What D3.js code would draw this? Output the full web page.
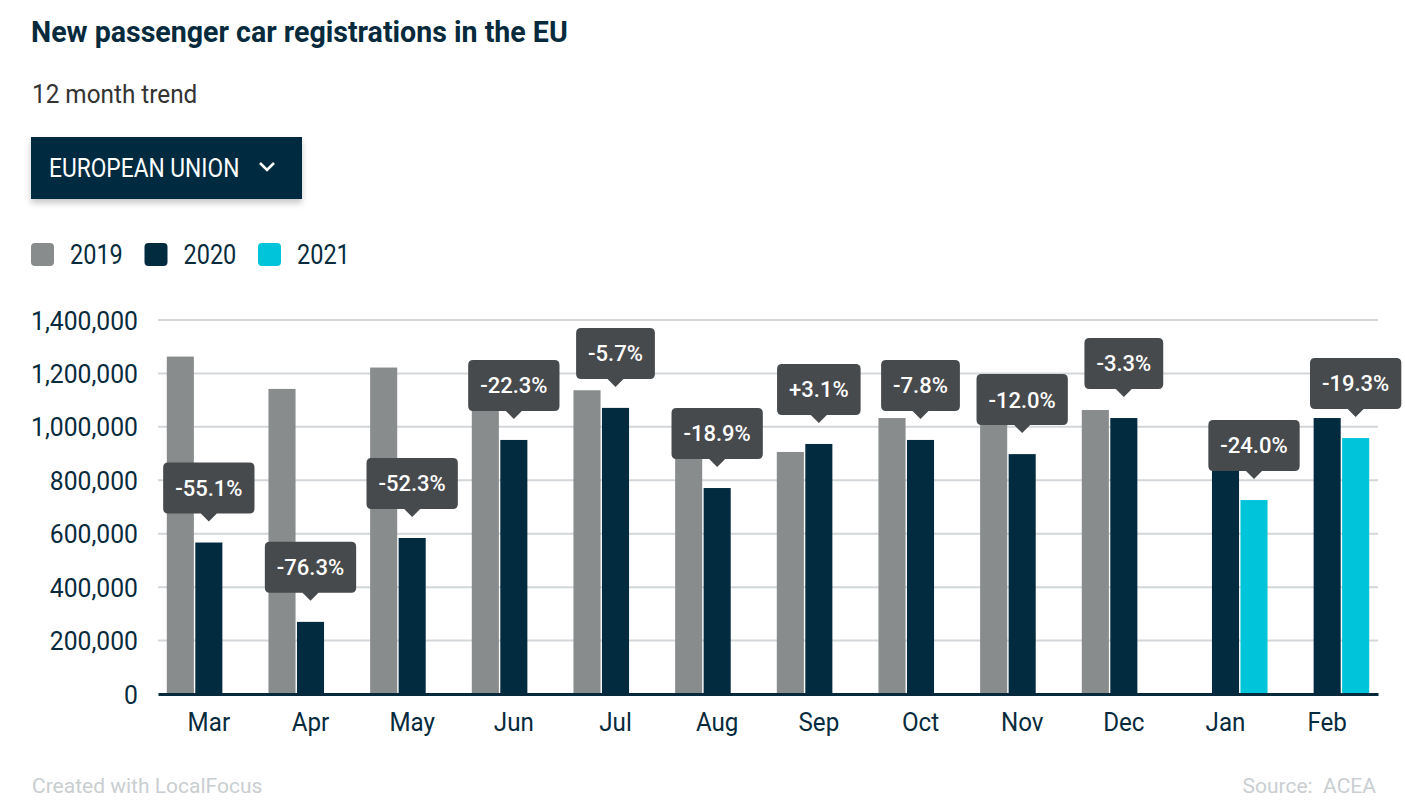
<!DOCTYPE html>
<html>
<head>
<meta charset="utf-8">
<script src="https://cdn.jsdelivr.net/npm/d3@7"></script>
<style>
  html, body { margin: 0; padding: 0; background: #fff; }
  svg { display: block; font-family: Roboto, "Noto Sans", sans-serif; }
</style>
</head>
<body>
<svg id="chart" width="1405" height="811"></svg>
<script>
// ---------- data ----------
const months = ["Mar", "Apr", "May", "Jun", "Jul", "Aug", "Sep", "Oct", "Nov", "Dec", "Jan", "Feb"];
const seriesNames = ["2019", "2020", "2021"];
const values2019 = [1263000, 1142000, 1222000, 1224000, 1137000, 951000, 906000, 1033000, 1021000, 1063000, null, null];
const values2020 = [567000, 270000, 584000, 951000, 1071000, 771000, 936000, 951000, 898000, 1033000, 958000, 1033000];
const values2021 = [null, null, null, null, null, null, null, null, null, null, 726000, 958000];
const changeLabels = ["-55.1%", "-76.3%", "-52.3%", "-22.3%", "-5.7%", "-18.9%", "+3.1%", "-7.8%", "-12.0%", "-3.3%", "-24.0%", "-19.3%"];
const yTicks = [0, 200000, 400000, 600000, 800000, 1000000, 1200000, 1400000];
const colors = ["#888c8c", "#032b40", "#00c4d9"];

(function () {
function condense(sel, k) {
  sel.each(function () {
    const w = this.getComputedTextLength();
    this.setAttribute("textLength", w * k);
    this.setAttribute("lengthAdjust", "spacingAndGlyphs");
  });
  return sel;
}

const svg = d3.select("#chart");

// defs: shadow
const defs = svg.append("defs");
const f = defs.append("filter").attr("id", "shadow").attr("x", "-10%").attr("y", "-20%").attr("width", "120%").attr("height", "160%");
f.append("feDropShadow").attr("dx", 0).attr("dy", 4).attr("stdDeviation", 3).attr("flood-color", "#000").attr("flood-opacity", 0.22);

// ---------- header ----------
condense(svg.append("text").attr("x", 31).attr("y", 42)
  .attr("font-size", 30).attr("font-weight", 700).attr("fill", "#072b3d")
  .text("New passenger car registrations in the EU"), 0.952);

condense(svg.append("text").attr("x", 32).attr("y", 103)
  .attr("font-size", 26).attr("fill", "#333")
  .text("12 month trend"), 0.935);

// dropdown
const dd = svg.append("g");
dd.append("rect").attr("x", 31).attr("y", 137).attr("width", 271).attr("height", 62)
  .attr("fill", "#032a3f").attr("filter", "url(#shadow)");
condense(dd.append("text").attr("x", 49).attr("y", 177)
  .attr("font-size", 26).attr("fill", "#fff")
  .text("EUROPEAN UNION"), 0.875);
dd.append("path").attr("d", "M260,163 L267,170 L274,163")
  .attr("fill", "none").attr("stroke", "#fff").attr("stroke-width", 2.6);

// legend
let lx = 31;
seriesNames.forEach((s, i) => {
  svg.append("rect").attr("x", lx).attr("y", 243).attr("width", 23).attr("height", 23)
    .attr("rx", 4).attr("fill", colors[i]);
  const t = svg.append("text").attr("x", lx + 39).attr("y", 264)
    .attr("font-size", 27).attr("fill", "#072b3d").text(s);
  condense(t, 0.87);
  lx += 113.5;
});

// ---------- chart ----------
const pLeft = 158, pRight = 1378, pTop = 320, pBottom = 694;

const x0 = d3.scaleBand().domain(months).range([pLeft, pRight]).paddingInner(0.145).paddingOuter(0.0725);
const x1 = d3.scaleBand().domain(seriesNames).range([0, x0.bandwidth()]).padding(0.05);
const y = d3.scaleLinear().domain([0, 1400000]).range([pBottom, pTop]);

// gridlines
svg.append("g").selectAll("line").data(yTicks.filter(d => d > 0)).join("line")
  .attr("x1", pLeft).attr("x2", pRight)
  .attr("y1", d => y(d)).attr("y2", d => y(d))
  .attr("stroke", "#d3d7d9").attr("stroke-width", 2);

// y axis labels
const yAxis = d3.axisLeft(y).tickValues(yTicks).tickFormat(d3.format(",")).tickSize(0).tickPadding(0);
const yg = svg.append("g").attr("transform", `translate(138,0)`).call(yAxis);
yg.select(".domain").remove();
yg.selectAll("text").attr("font-size", 26).attr("fill", "#072b3d")
  .attr("font-family", "Roboto").attr("dy", "0.35em");
condense(yg.selectAll("text"), 0.95);

// bars
const table = months.map((m, i) => ({
  month: m,
  vals: [values2019[i], values2020[i], values2021[i]],
  label: changeLabels[i]
}));

const groups = svg.append("g").selectAll("g").data(table).join("g")
  .attr("transform", d => `translate(${x0(d.month)},0)`);

groups.selectAll("rect").data(d => d.vals.map((v, j) => ({ key: seriesNames[j], v, j })).filter(e => e.v != null))
  .join("rect")
  .attr("x", e => x1(e.key))
  .attr("width", x1.bandwidth())
  .attr("y", e => y(e.v))
  .attr("height", e => y(0) - y(e.v))
  .attr("fill", e => colors[e.j]);

// baseline axis
const xAxis = d3.axisBottom(x0).tickSize(0).tickPadding(0);
const xg = svg.append("g").attr("transform", `translate(0,${pBottom})`).call(xAxis);
xg.select(".domain").attr("stroke", "#062a3c").attr("stroke-width", 3);
xg.selectAll("text").attr("font-size", 26).attr("fill", "#072b3d")
  .attr("font-family", "Roboto").attr("dy", 0).attr("y", 37);
condense(xg.selectAll("text"), 0.93);

// change labels (callouts)
table.forEach(d => {
  let last = -1;
  d.vals.forEach((v, j) => { if (v != null) last = j; });
  const v = d.vals[last];
  const cx = x0(d.month) + x1(seriesNames[last]) + x1.bandwidth() / 2;
  const barTop = y(v);
  const tip = barTop - 21;
  const boxBottom = tip - 8;
  const boxTop = boxBottom - 51;
  const g = svg.append("g");
  const t = g.append("text").attr("x", cx).attr("y", (boxTop + boxBottom) / 2)
    .attr("dy", "0.36em").attr("text-anchor", "middle")
    .attr("font-size", 22).attr("font-weight", 500).attr("fill", "#fff").text(d.label);
  const w = t.node().getComputedTextLength() + 24;
  g.insert("path", "text")
    .attr("d", `M${cx - w / 2 + 5},${boxTop} H${cx + w / 2 - 5} Q${cx + w / 2},${boxTop} ${cx + w / 2},${boxTop + 5}
      V${boxBottom - 5} Q${cx + w / 2},${boxBottom} ${cx + w / 2 - 5},${boxBottom}
      H${cx + 8} L${cx},${tip} L${cx - 8},${boxBottom}
      H${cx - w / 2 + 5} Q${cx - w / 2},${boxBottom} ${cx - w / 2},${boxBottom - 5}
      V${boxTop + 5} Q${cx - w / 2},${boxTop} ${cx - w / 2 + 5},${boxTop} Z`)
    .attr("fill", "#474a4c");
});

// footer
svg.append("text").attr("x", 32).attr("y", 793)
  .attr("font-size", 21).attr("fill", "#c9ced1").text("Created with LocalFocus");
svg.append("text").attr("x", 1376).attr("y", 793).attr("text-anchor", "end")
  .attr("font-size", 21).attr("fill", "#c9ced1").text("Source:  ACEA").style("white-space", "pre");
})();
</script>
</body>
</html>
